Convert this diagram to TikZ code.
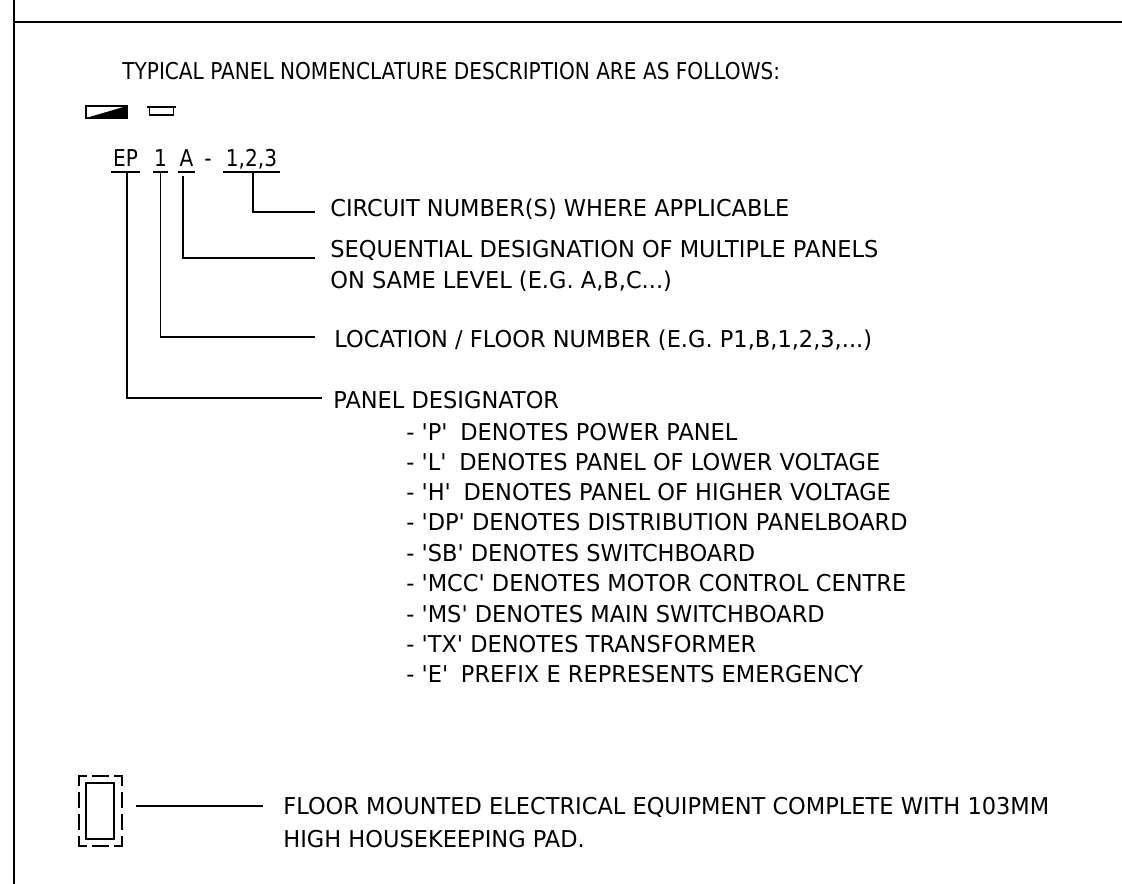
\documentclass[tikz,border=0pt]{standalone}
\usepackage{fontspec}
\setmainfont[FakeStretch=0.97,Ligatures=TeXOff]{DejaVu Sans}
\newfontfamily\narrowfont[FakeStretch=0.866,Ligatures=TeXOff]{DejaVu Sans}
\usepackage{tikz}
\usetikzlibrary{calc, positioning}
\tikzset{
  rule/.style={line width=1pt, black},
  leader/.style={line width=1pt, black},
  txt/.style={font=\fontsize{13.2}{15}\selectfont, anchor=base west, inner sep=0pt},
  head/.style={font=\narrowfont\fontsize{13.2}{15}\selectfont, anchor=base west, inner sep=0pt},
  part/.style={font=\narrowfont\fontsize{13.2}{15}\selectfont, anchor=base, inner ysep=0pt, inner xsep=0pt, text height=0.36cm, text depth=0.1cm},
  padlong/.style={rule, line cap=rect, dash pattern=on 0.18cm off 0.16cm on 0.28cm off 0.16cm on 0.28cm off 0.16cm on 0.18cm},
  padshort/.style={rule, line cap=rect, dash pattern=on 0.14cm off 0.14cm on 0.30cm off 0.14cm on 0.14cm}
}

\begin{document}
\begin{tikzpicture}
  \useasboundingbox (0,0) rectangle (22.44,17.68);

  % Sheet frame
  \draw[rule] (0.28,17.68) -- (0.28,0);
  \draw[rule] (0.28,17.24) -- (22.44,17.24);

  % Heading
  \node[head] (title) at (2.44,16.08) {TYPICAL PANEL NOMENCLATURE DESCRIPTION ARE AS FOLLOWS:};

  % Small symbols below heading
  \draw[rule, line width=1.2pt] (1.72,15.32) rectangle (2.54,15.56);
  \fill[black] (1.72,15.32) -- (2.54,15.56) -- (2.54,15.32) -- cycle;
  \draw[rule, line width=1.2pt] (2.94,15.54) -- (3.52,15.54);
  \draw[rule] (2.99,15.54) -- (2.99,15.38) -- (3.47,15.38) -- (3.47,15.54);

  % Designation parts
  \node[part, minimum width=0.58cm] (ep) at (2.51,14.34) {EP};
  \node[part, minimum width=0.30cm] (num) at (3.21,14.34) {1};
  \node[part, minimum width=0.34cm] (ltr) at (3.73,14.34) {A};
  \node[part] (dash) at (4.16,14.34) {-};
  \node[part, minimum width=1.14cm] (cct) at (5.03,14.34) {1,2,3};
  \foreach \n in {ep,num,ltr,cct}
    \draw[rule] (\n.south west) -- (\n.south east);

  % Leader ends
  \coordinate (cctend) at (6.30,13.44);
  \coordinate (ltrend) at (6.30,12.52);
  \coordinate (numend) at (6.30,10.94);
  \coordinate (epend) at (6.44,9.72);

  % Leaders
  \draw[leader] ([xshift=0.03cm,yshift=-0.02cm]cct.south) |- (cctend);
  \draw[leader] ([xshift=-0.07cm,yshift=-0.08cm]ltr.south) |- (ltrend);
  \draw[leader] ([yshift=-0.02cm]num.south) |- (numend);
  \draw[leader] ([xshift=0.03cm]ep.south) |- (epend);

  % Descriptions
  \node[txt] (cctdesc) at (6.60,13.34) {CIRCUIT NUMBER(S) WHERE APPLICABLE};
  \node[txt] (ltrdesca) at (6.60,12.52) {SEQUENTIAL DESIGNATION OF MULTIPLE PANELS};
  \node[txt] (ltrdescb) at (6.60,11.90) {ON SAME LEVEL (E.G. A,B,C...)};
  \node[txt] (numdesc) at (6.68,10.72) {LOCATION / FLOOR NUMBER (E.G. P1,B,1,2,3,...)};
  \node[txt] (epdesc) at (6.66,9.50) {PANEL DESIGNATOR};

  % Designator list
  \node[txt] (lp) at (8.12,8.86) {- 'P'\hspace{0.55em}DENOTES POWER PANEL};
  \node[txt] (ll) at (8.12,8.26) {- 'L'\hspace{0.55em}DENOTES PANEL OF LOWER VOLTAGE};
  \node[txt] (lh) at (8.12,7.66) {- 'H'\hspace{0.55em}DENOTES PANEL OF HIGHER VOLTAGE};
  \node[txt] (ldp) at (8.12,7.06) {- 'DP' DENOTES DISTRIBUTION PANELBOARD};
  \node[txt] (lsb) at (8.12,6.44) {- 'SB' DENOTES SWITCHBOARD};
  \node[txt] (lmcc) at (8.12,5.84) {- 'MCC' DENOTES MOTOR CONTROL CENTRE};
  \node[txt] (lms) at (8.12,5.22) {- 'MS' DENOTES MAIN SWITCHBOARD};
  \node[txt] (ltx) at (8.12,4.62) {- 'TX' DENOTES TRANSFORMER};
  \node[txt] (le) at (8.12,4.02) {- 'E'\hspace{0.55em}PREFIX E REPRESENTS EMERGENCY};

  % Floor mounted equipment
  \draw[padshort] (1.58,2.16) -- (2.44,2.16);
  \draw[padshort] (1.58,0.76) -- (2.44,0.76);
  \draw[padlong] (1.58,2.16) -- (1.58,0.76);
  \draw[padlong] (2.44,2.16) -- (2.44,0.76);
  \node[draw, line width=1pt, inner sep=0pt, minimum width=0.56cm, minimum height=1.12cm] (pad) at (2.00,1.46) {};
  \coordinate (padend) at (5.26,1.56);
  \coordinate (padstart) at (2.72,1.56);
  \draw[leader] (padstart) -- (padend);
  \node[txt] (paddesca) at (5.66,1.38) {FLOOR MOUNTED ELECTRICAL EQUIPMENT COMPLETE WITH 103MM};
  \node[txt] (paddescb) at (5.66,0.72) {HIGH HOUSEKEEPING PAD.};
\end{tikzpicture}
\end{document}
